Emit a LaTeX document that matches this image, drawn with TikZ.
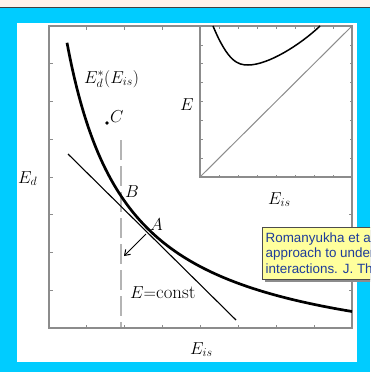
\documentclass[tikz,border=0pt]{standalone}
\usepackage{fontspec}
\newfontfamily\tipfont{Liberation Sans}
\usetikzlibrary{arrows.meta}
\definecolor{slidecyan}{HTML}{00CCFF}
\definecolor{peach}{HTML}{FDF2EB}
\definecolor{framegray}{HTML}{8C8C8C}
\definecolor{dashgray}{HTML}{B4B4B4}
\definecolor{tipyellow}{HTML}{FFFF9C}
\definecolor{tipblue}{HTML}{1E3C9A}
\tikzset{
  axframe/.style={draw=framegray, line width=1.4pt},
  tickline/.style={draw=framegray, line width=1pt},
  lbl/.style={inner sep=0pt, anchor=base west, font=\fontsize{18.8}{22}\selectfont},
  tiptext/.style={inner sep=0pt, anchor=base west, text=tipblue, font=\tipfont\fontsize{13.4}{16}\selectfont},
}
\begin{document}
\begin{tikzpicture}[x=1pt,y=-1pt]
\useasboundingbox (0,0) rectangle (370,372);
\begin{scope}
\clip (0,0) rectangle (370,372);
% background
\fill[slidecyan] (0,0) rectangle (370,372);
\fill[peach] (0,0) rectangle (370,6.5);
\draw[black!75, line width=0.9pt] (0,7) -- (370,7);
\fill[white] (17,23) rectangle (357,362);
% main frame ticks
\foreach \k in {1,...,7} {
  \draw[tickline] ({49+37.875*\k},328) -- ++(0,-3.5);
  \draw[tickline] (49,{328-37.75*\k}) -- ++(3.5,0);
}
\foreach \k in {1,...,3} {
  \draw[tickline] ({49+37.875*\k},26) -- ++(0,3.5);
  \draw[tickline] (352,{328-37.75*\k}) -- ++(-3.5,0);
}
% inset ticks
\foreach \k in {1,...,7} {
  \draw[tickline, line width=0.7pt] ({200+19*\k},177) -- ++(0,-2.5);
  \draw[tickline, line width=0.7pt] ({200+19*\k},26) -- ++(0,2.5);
  \draw[tickline, line width=0.7pt] (200,{177-18.875*\k}) -- ++(2.5,0);
  \draw[tickline, line width=0.7pt] (352,{177-18.875*\k}) -- ++(-2.5,0);
}
% frames
\draw[axframe] (49,26) rectangle (352,328);
\draw[axframe] (200,26) rectangle (352,177);
% inset diagonal and curve
\coordinate (io) at (200,177);
\coordinate (itr) at (352,26);
\draw[framegray, line width=1pt] (io) -- (itr);
\draw[black, line width=1.5pt] (213,26) .. controls (228,62) and (238,65) .. (248,65)
  .. controls (268,65) and (300,45) .. (320,26);
% dashed vertical
\coordinate (d1) at (121,140);
\coordinate (d2) at (121,327);
\draw[dashgray, line width=1.3pt, dash pattern=on 20pt off 6pt] (d1) -- (d2);
% main curve
\draw[black, line width=2.7pt] plot[domain=67:352, samples=120] (\x, {369 - 199/((\x-6)/100)});
% tangent line
\coordinate (t1) at (68,154);
\coordinate (t2) at (236,320);
\draw[black, line width=1.1pt] (t1) -- (t2);
% arrow
\coordinate (pA) at (146,234);
\coordinate (pArr) at (124,256);
\draw[black, line width=1pt, -{Straight Barb[length=5pt,width=7pt]}] (pA) -- (pArr);
% point C
\fill[black] (107,123) circle (1.8);
% labels
\node[lbl] (lEdstar) at (84,83) {$E_d^*(E_{is})$};
\node[lbl] (lC) at (110,122) {$C$};
\node[lbl] (lB) at (125,197) {$B$};
\node[lbl] (lA) at (150,230) {$A$};
\node[lbl] (lconst) at (130,298) {$E{=}\mathrm{const}$};
\node[lbl] (lEd) at (18,183) {$E_d$};
\node[lbl] (lEis) at (190,354) {$E_{is}$};
\node[lbl] (liE) at (180,110) {$E$};
\node[lbl] (liEis) at (268,204) {$E_{is}$};
% tooltip
\fill[black!45] (265,230) rectangle (385,282);
\draw[draw=black!70, fill=tipyellow, line width=0.7pt] (262,227) rectangle (382,279);
\node[tiptext] (tip1) at (265.5,242) {Romanyukha et al.};
\node[tiptext] (tip2) at (265.5,257.5) {approach to understanding};
\node[tiptext] (tip3) at (265.5,273) {interactions. J. Theor.};
\end{scope}
\end{tikzpicture}
\end{document}
